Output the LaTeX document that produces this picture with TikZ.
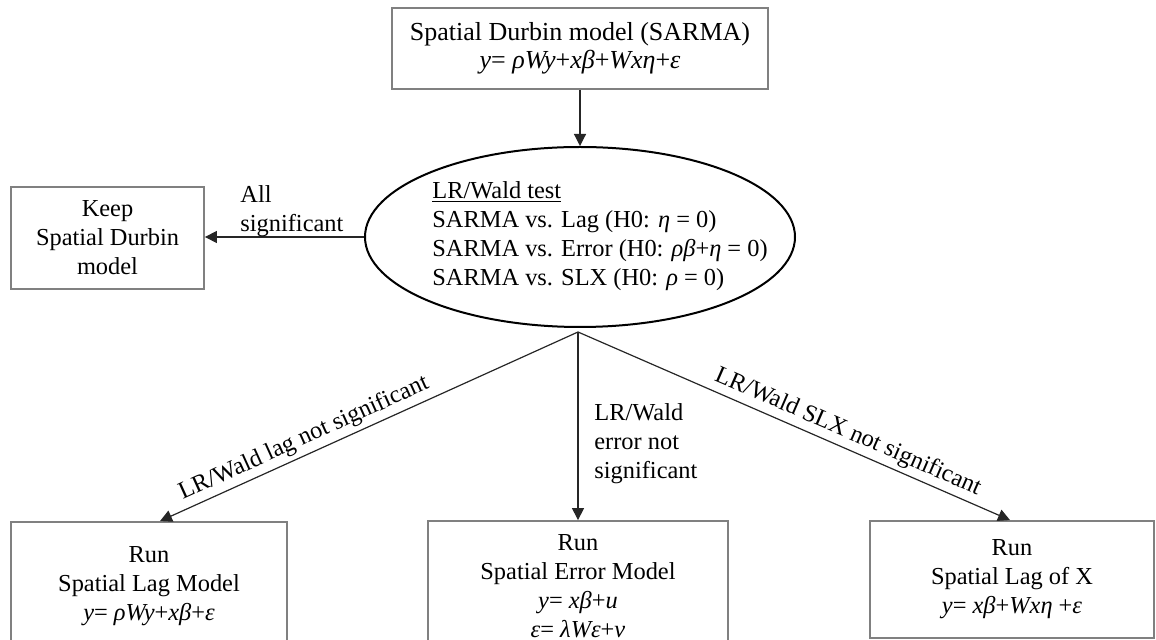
\documentclass[tikz,border=0pt]{standalone}
\usepackage{fontspec}
\setmainfont{Liberation Serif}
\usetikzlibrary{arrows.meta,shapes.geometric,calc}
\begin{document}
\begin{tikzpicture}[x=0.5pt,y=-0.5pt,
  font=\fontsize{12.2}{14.5}\selectfont,
  modelbox/.style={draw=black!50, line width=0.9pt, align=center, inner sep=0pt},
  testshape/.style={draw=black, line width=1pt, ellipse, inner sep=0pt},
  flow/.style={draw=black!85, line width=0.6pt, -{Triangle[length=6pt,width=6pt]}},
  lbl/.style={align=left, inner sep=0pt, anchor=west}]
\useasboundingbox (0,0) rectangle (1156,640);
\clip (0,0) rectangle (1156,640);

% general model and the test
\node[modelbox, minimum width=188pt, minimum height=40.5pt,
      font=\fontsize{13}{14}\selectfont] (sdm) at (580,48.5)
  {Spatial Durbin model (SARMA)\\\textit{y}= \textit{ρWy}+\textit{xβ}+\textit{Wxη}+\textit{ε}};
\node[testshape, minimum width=215pt, minimum height=90pt] (test) at (580,237) {};
\node[lbl] (testtxt) at (432,236)
  {\underline{LR/Wald test}\\
   SARMA vs. Lag (H0: \textit{η} = 0)\\
   SARMA vs. Error (H0: \textit{ρβ}+\textit{η} = 0)\\
   SARMA vs. SLX (H0: \textit{ρ} = 0)};

% outcomes
\node[modelbox, minimum width=96.5pt, minimum height=51pt] (keep) at (107.5,238)
  {Keep\\Spatial Durbin\\model};
\coordinate (j) at (578,332);
\node[modelbox, minimum width=138pt, minimum height=64pt] (lag) at (149,586)
  {Run\\Spatial Lag Model\\\textit{y}= \textit{ρWy}+\textit{xβ}+\textit{ε}};
\node[modelbox, minimum width=150pt, minimum height=65pt] (err) at (578,586)
  {Run\\Spatial Error Model\\\textit{y}= \textit{xβ}+\textit{u}\\\textit{ε}= \textit{λWε}+\textit{v}};
\node[modelbox, minimum width=142pt, minimum height=58.5pt] (slx) at (1012,579.5)
  {Run\\Spatial Lag of X\\\textit{y}= \textit{xβ}+\textit{Wxη} +\textit{ε}};

% connectors
\draw[flow] (sdm) -- (test);
\draw[flow] (test.west) -- (keep.east |- test.west);
\node[lbl] (allsig) at (240,211) {All\\significant};
\draw[flow] (j) -- node[sloped, above, pos=0.64, inner sep=2pt] {LR/Wald lag not significant} ([xshift=5.5pt]lag.north);
\draw[flow] (j) -- (err.north);
\node[lbl] (errsig) at (594,444) {LR/Wald\\error not\\significant};
\draw[flow] (j) -- node[sloped, above, pos=0.61, inner sep=2pt] {LR/Wald SLX not significant} ([xshift=-1pt]slx.north);
\end{tikzpicture}
\end{document}
